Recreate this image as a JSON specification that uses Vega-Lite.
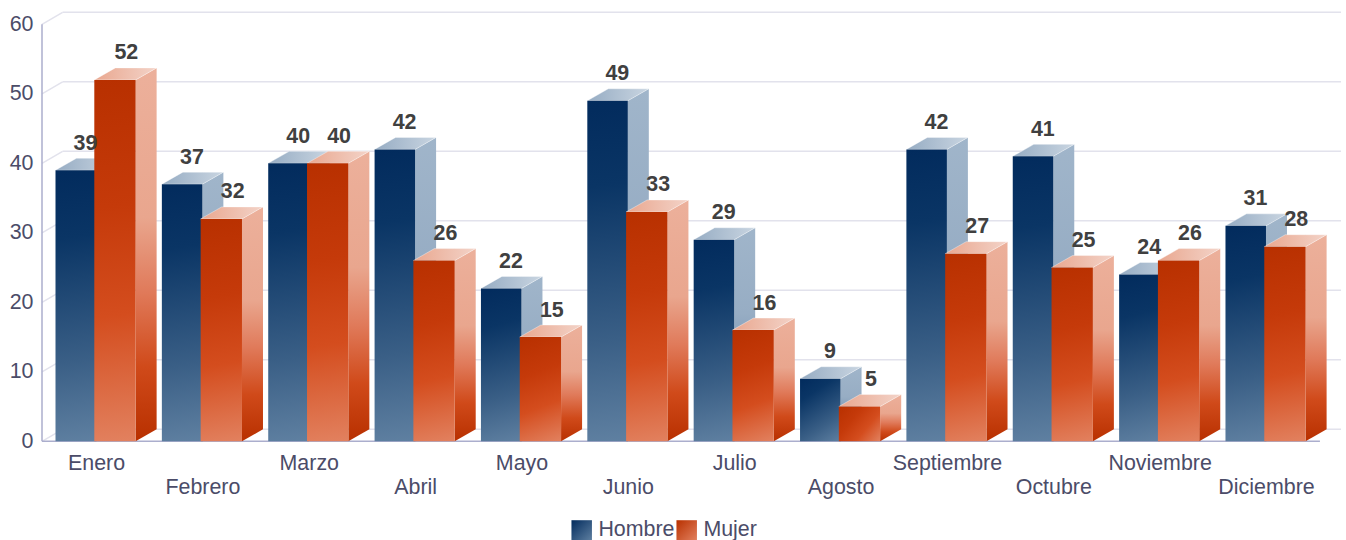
{
"$schema":"https://vega.github.io/schema/vega-lite/v6.json",
"width":1299,"height":429,
"autosize":{"type":"none"},
"padding":{"left":42,"top":12.3,"right":5,"bottom":98.7},
"background":"#ffffff",
"config":{"view":{"stroke":null},"font":"Liberation Sans"},
"datasets":{"grid":[{"v":0},{"v":10},{"v":20},{"v":30},{"v":40},{"v":50},{"v":60}]},
"data":{"values":[
{"mes":"Enero","serie":"Hombre","valor":39},{"mes":"Febrero","serie":"Hombre","valor":37},{"mes":"Marzo","serie":"Hombre","valor":40},{"mes":"Abril","serie":"Hombre","valor":42},{"mes":"Mayo","serie":"Hombre","valor":22},{"mes":"Junio","serie":"Hombre","valor":49},{"mes":"Julio","serie":"Hombre","valor":29},{"mes":"Agosto","serie":"Hombre","valor":9},{"mes":"Septiembre","serie":"Hombre","valor":42},{"mes":"Octubre","serie":"Hombre","valor":41},{"mes":"Noviembre","serie":"Hombre","valor":24},{"mes":"Diciembre","serie":"Hombre","valor":31},
{"mes":"Enero","serie":"Mujer","valor":52},{"mes":"Febrero","serie":"Mujer","valor":32},{"mes":"Marzo","serie":"Mujer","valor":40},{"mes":"Abril","serie":"Mujer","valor":26},{"mes":"Mayo","serie":"Mujer","valor":15},{"mes":"Junio","serie":"Mujer","valor":33},{"mes":"Julio","serie":"Mujer","valor":16},{"mes":"Agosto","serie":"Mujer","valor":5},{"mes":"Septiembre","serie":"Mujer","valor":27},{"mes":"Octubre","serie":"Mujer","valor":25},{"mes":"Noviembre","serie":"Mujer","valor":26},{"mes":"Diciembre","serie":"Mujer","valor":28}
]},
"transform":[
{"calculate":"indexof(['Enero','Febrero','Marzo','Abril','Mayo','Junio','Julio','Agosto','Septiembre','Octubre','Noviembre','Diciembre'],datum.mes)","as":"i"},
{"calculate":"datum.i+(datum.serie=='Hombre'?0.1269:0.4917)","as":"x0"},
{"calculate":"datum.serie=='Hombre'?0.3808:0.3885","as":"w"},
{"calculate":"datum.x0+datum.w","as":"x1"},
{"calculate":"datum.valor+1.727","as":"vb"},
{"calculate":"datum.x0+datum.w/2+0.0968+(datum.serie=='Hombre'?-0.005:0.01)","as":"xl"},
{"calculate":"pow(41/(datum.valor*6.95),2)","as":"r"},
{"calculate":"(1+datum.r)/(1+datum.r*datum.r)","as":"gb"},
{"calculate":"{gradient:'linear',x1:0,y1:0,x2:datum.r*datum.gb,y2:datum.gb,stops:datum.serie=='Hombre'?[{offset:0,color:'#022b5d'},{offset:0.25,color:'#0a3565'},{offset:0.7,color:'#3a5f86'},{offset:1,color:'#5f80a1'}]:[{offset:0,color:'#b83000'},{offset:0.35,color:'#c53a0a'},{offset:0.65,color:'#d44d1e'},{offset:1,color:'#e2815f'}]}","as":"g"}
],
"layer":[
{"data":{"name":"grid"},"transform":[{"calculate":"datum.v+1.727","as":"vb"},{"calculate":"0.1937","as":"xa"},{"calculate":"12.213","as":"xb"}],
 "mark":{"type":"rule","color":"#e2e2ec","strokeWidth":1.5},
 "encoding":{"x":{"field":"xa","type":"quantitative","scale":{"domain":[0,12.213],"nice":false},"axis":{"title":null,"values":[0.508,1.508,2.508,3.508,4.508,5.508,6.508,7.508,8.508,9.508,10.508,11.508],"domain":false,"ticks":false,"grid":false,"labelFontSize":21.4,"labelColor":"#4b4c68","labelPadding":11,"labelLineHeight":24,"labelOverlap":false,"labelFlush":false,"labelBound":false,"labelExpr":"floor(datum.value)%2==0?['Enero','Febrero','Marzo','Abril','Mayo','Junio','Julio','Agosto','Septiembre','Octubre','Noviembre','Diciembre'][floor(datum.value)]:['',['Enero','Febrero','Marzo','Abril','Mayo','Junio','Julio','Agosto','Septiembre','Octubre','Noviembre','Diciembre'][floor(datum.value)]]"}},
 "x2":{"field":"xb"},
 "y":{"field":"vb","type":"quantitative","scale":{"domain":[0,61.73],"nice":false},"axis":{"title":null,"values":[0,10,20,30,40,50,60],"domain":false,"ticks":false,"grid":false,"labelFontSize":21.4,"labelColor":"#4b4c68","labelPadding":9}}}},
{"data":{"name":"grid"},"transform":[{"calculate":"datum.v+1.727","as":"vb"},{"calculate":"0","as":"xa"},{"calculate":"0.1937","as":"xb"}],
 "mark":{"type":"rule","color":"#e2e2ec","strokeWidth":1.5},
 "encoding":{"x":{"field":"xa","type":"quantitative"},"x2":{"field":"xb"},"y":{"field":"v","type":"quantitative"},"y2":{"field":"vb"}}},
{"data":{"values":[{"a":0,"b":60}]},
 "mark":{"type":"rule","color":"#abaecd","strokeWidth":1.5},
 "encoding":{"x":{"datum":0,"type":"quantitative"},"y":{"field":"a","type":"quantitative"},"y2":{"field":"b"}}},
{"data":{"values":[{"a":0,"b":12.015}]},
 "mark":{"type":"rule","color":"#abaecd","strokeWidth":1.5},
 "encoding":{"y":{"datum":0,"type":"quantitative"},"x":{"field":"a","type":"quantitative"},"x2":{"field":"b"}}},

{"transform":[{"filter":"datum.serie=='Hombre'"},{"calculate":"[0,1]","as":"c"},{"flatten":["c"]},{"calculate":"datum.x1+datum.c*0.1975","as":"xp"},{"calculate":"datum.c*1.727","as":"lo"},{"calculate":"datum.valor+datum.c*1.727","as":"hi"}],
 "mark":{"type":"area","orient":"vertical","fill":{"gradient":"linear","x1":0,"y1":0,"x2":0,"y2":1,"stops":[{"offset":0,"color":"#a0b5ca"},{"offset":0.4,"color":"#97adc4"},{"offset":0.6,"color":"#7f9ab6"},{"offset":0.8,"color":"#4f7297"},{"offset":1,"color":"#1c4676"}]}},
 "encoding":{"x":{"field":"xp","type":"quantitative"},"y":{"field":"hi","type":"quantitative"},"y2":{"field":"lo"},"detail":{"field":"mes"}}},
{"transform":[{"filter":"datum.serie=='Hombre'"},{"calculate":"[0,1,2,3]","as":"c"},{"flatten":["c"]},{"calculate":"datum.x0+[0,0.1975,datum.w,datum.w+0.1975][datum.c]","as":"xp"},{"calculate":"datum.c==3?datum.vb:datum.valor","as":"lo"},{"calculate":"datum.c==0?datum.valor:datum.vb","as":"hi"}],
 "mark":{"type":"area","orient":"vertical","stroke":"#ffffff","strokeWidth":0.6,"strokeOpacity":0.6,"fill":{"gradient":"linear","x1":0,"y1":0,"x2":1,"y2":0,"stops":[{"offset":0,"color":"#96acc3"},{"offset":1,"color":"#c9d5e1"}]}},
 "encoding":{"x":{"field":"xp","type":"quantitative"},"y":{"field":"hi","type":"quantitative"},"y2":{"field":"lo"},"detail":{"field":"mes"}}},
{"transform":[{"filter":"datum.serie=='Hombre'"}],
 "mark":{"type":"rect"},
 "encoding":{"x":{"field":"x0","type":"quantitative"},"x2":{"field":"x1"},"y":{"field":"valor","type":"quantitative"},"y2":{"datum":0},"fill":{"field":"g","type":"nominal","scale":null,"legend":null}}},

{"transform":[{"filter":"datum.serie=='Mujer'"},{"calculate":"[0,1]","as":"c"},{"flatten":["c"]},{"calculate":"datum.x1+datum.c*0.1975","as":"xp"},{"calculate":"datum.c*1.727","as":"lo"},{"calculate":"datum.valor+datum.c*1.727","as":"hi"}],
 "mark":{"type":"area","orient":"vertical","fill":{"gradient":"linear","x1":0,"y1":0,"x2":0,"y2":1,"stops":[{"offset":0,"color":"#ecb09b"},{"offset":0.4,"color":"#e9a68e"},{"offset":0.6,"color":"#e07a5a"},{"offset":0.8,"color":"#d04a1a"},{"offset":1,"color":"#b83000"}]}},
 "encoding":{"x":{"field":"xp","type":"quantitative"},"y":{"field":"hi","type":"quantitative"},"y2":{"field":"lo"},"detail":{"field":"mes"}}},
{"transform":[{"filter":"datum.serie=='Mujer'"},{"calculate":"[0,1,2,3]","as":"c"},{"flatten":["c"]},{"calculate":"datum.x0+[0,0.1975,datum.w,datum.w+0.1975][datum.c]","as":"xp"},{"calculate":"datum.c==3?datum.vb:datum.valor","as":"lo"},{"calculate":"datum.c==0?datum.valor:datum.vb","as":"hi"}],
 "mark":{"type":"area","orient":"vertical","stroke":"#ffffff","strokeWidth":0.6,"strokeOpacity":0.6,"fill":{"gradient":"linear","x1":0,"y1":0,"x2":1,"y2":0,"stops":[{"offset":0,"color":"#e9a78f"},{"offset":1,"color":"#f3d3c8"}]}},
 "encoding":{"x":{"field":"xp","type":"quantitative"},"y":{"field":"hi","type":"quantitative"},"y2":{"field":"lo"},"detail":{"field":"mes"}}},
{"transform":[{"filter":"datum.serie=='Mujer'"}],
 "mark":{"type":"rect"},
 "encoding":{"x":{"field":"x0","type":"quantitative"},"x2":{"field":"x1"},"y":{"field":"valor","type":"quantitative"},"y2":{"datum":0},"fill":{"field":"g","type":"nominal","scale":null,"legend":null}}},

{"mark":{"type":"text","font":"Liberation Sans","fontSize":21.4,"fontWeight":"bold","color":"#404040","baseline":"alphabetic","dy":-8.5},
 "encoding":{"x":{"field":"xl","type":"quantitative"},"y":{"field":"vb","type":"quantitative"},"text":{"field":"valor","type":"quantitative"}}},

{"mark":{"type":"point","filled":true,"size":0},
 "encoding":{"x":{"field":"xl","type":"quantitative"},"y":{"field":"vb","type":"quantitative"},
 "shape":{"field":"serie","type":"nominal","scale":{"domain":["Hombre","Mujer"],"range":["square","square"]},
 "legend":{"title":null,"orient":"none","legendX":529,"legendY":507,"direction":"horizontal","columns":2,"symbolSize":420,"symbolStrokeWidth":0,"symbolOpacity":1,"labelFontSize":21.4,"labelColor":"#4b4c68","labelOffset":6,"columnPadding":1,"padding":0,
 "encoding":{"symbols":{"opacity":{"value":1},"fill":{"value":{"expr":"datum.value=='Hombre'?{gradient:'linear',x1:0,y1:0,x2:1,y2:1,stops:[{offset:0,color:'#022b5d'},{offset:1,color:'#5f80a1'}]}:{gradient:'linear',x1:0,y1:0,x2:1,y2:1,stops:[{offset:0,color:'#b83000'},{offset:1,color:'#e2815f'}]}"}}}}}}}}
]
}
